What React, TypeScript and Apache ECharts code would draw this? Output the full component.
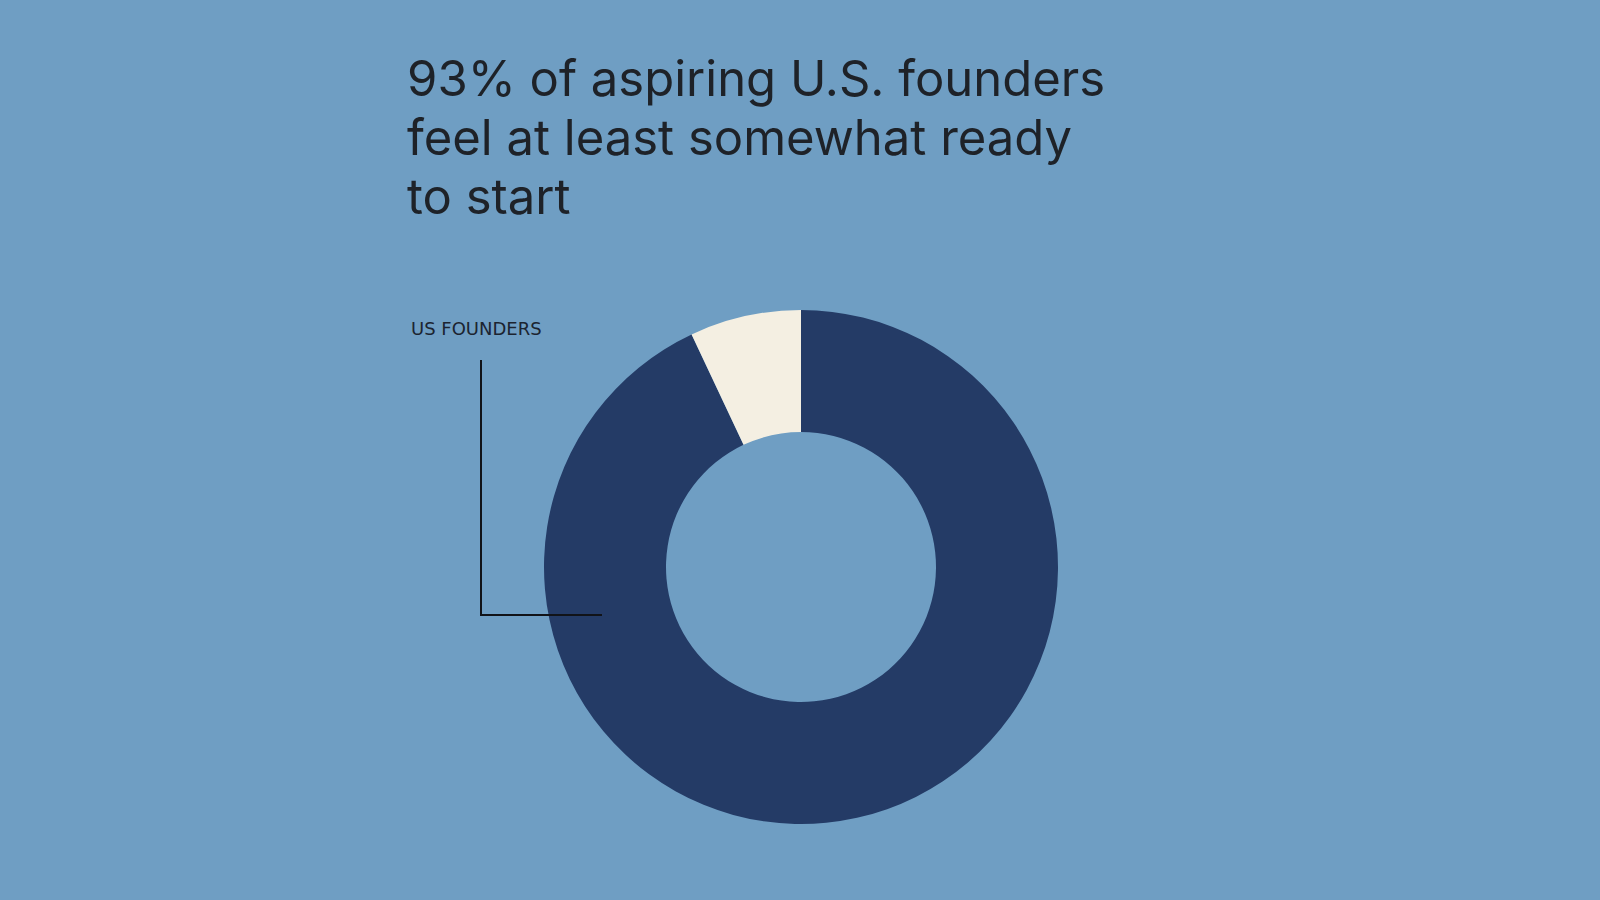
import React, { useEffect, useRef } from "react";
import * as echarts from "echarts";

const categories = ["Feel at least somewhat ready", "Other"];
const values = [93, 7];
const sliceColors = ["#243b66", "#f4efe2"];
const titleText = "93% of aspiring U.S. founders\nfeel at least somewhat ready\nto start";
const groupLabel = "US FOUNDERS";

export default function App() {
  const ref = useRef<HTMLDivElement>(null);
  useEffect(() => {
    if (!ref.current) return;
    const chart = echarts.init(ref.current, undefined, { renderer: "svg" });
    chart.setOption({
      animation: false,
      backgroundColor: "#6f9ec3",
      title: {
        text: titleText,
        left: 407,
        top: 49,
        padding: 0,
        textStyle: {
          fontFamily: "Inter",
          fontSize: 49,
          fontWeight: 400,
          lineHeight: 59,
          color: "#1e2228",
        },
      },
      graphic: [
        {
          type: "text",
          left: 411,
          top: 319,
          style: {
            text: groupLabel,
            font: "500 18px 'DejaVu Sans'",
            fill: "#1c2430",
          },
        },
        {
          type: "polyline",
          shape: { points: [[481, 360], [481, 615], [602, 615]] },
          style: { stroke: "#111318", lineWidth: 2, fill: "none" },
          z: 10,
        },
      ],
      series: [
        {
          type: "pie",
          center: [801, 567],
          radius: [135, 257],
          startAngle: 90,
          clockwise: true,
          label: { show: false },
          labelLine: { show: false },
          emphasis: { disabled: true },
          silent: true,
          itemStyle: { borderWidth: 0 },
          data: categories.map((c, i) => ({
            name: c,
            value: values[i],
            itemStyle: { color: sliceColors[i] },
          })),
        },
      ],
    });
    return () => chart.dispose();
  }, []);
  return (
    <div
      ref={ref}
      style={{ position: "absolute", left: 0, top: 0, width: 1600, height: 900 }}
    />
  );
}
